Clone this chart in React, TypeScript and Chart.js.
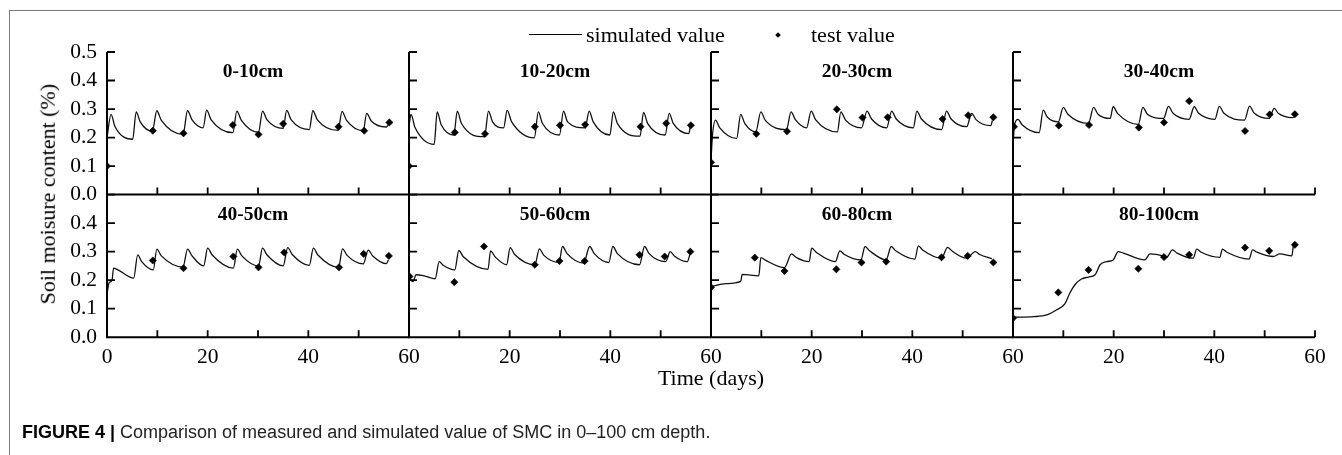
import React, { useEffect, useRef } from 'react';
import { Chart, registerables } from 'chart.js';

Chart.register(...registerables);

// ---------------- data ----------------
const depthLabels = ['0-10cm', '10-20cm', '20-30cm', '30-40cm', '40-50cm', '50-60cm', '60-80cm', '80-100cm'];

const yTickValues = [0, 0.1, 0.2, 0.3, 0.4, 0.5];
const yTickLabels = ['0.0', '0.1', '0.2', '0.3', '0.4', '0.5'];
const xTickValues = [0, 10, 20, 30, 40, 50, 60];
const xTickLabels = ['0', '', '20', '', '40', '', '60'];

const sim0to10 = [[0,0.20],[0.8,0.281],[1.6,0.238],[5.1,0.194],[5.8,0.290],[6.6,0.255],[9.0,0.222],[9.9,0.294],[10.8,0.260],[15.1,0.211],[16.0,0.294],[16.9,0.262],[19.1,0.234],[19.8,0.296],[20.7,0.262],[25.0,0.217],[25.8,0.293],[26.7,0.260],[30.1,0.218],[30.9,0.293],[31.8,0.262],[35.0,0.232],[35.7,0.295],[36.6,0.262],[40.2,0.228],[40.9,0.294],[41.8,0.262],[45.9,0.225],[46.7,0.292],[47.6,0.260],[50.9,0.224],[51.6,0.285],[52.5,0.258],[55.5,0.237],[55.9,0.245]];
const test0to10 = [[0,0.100],[9.1,0.224],[15.2,0.215],[25.0,0.244],[30.1,0.211],[35.0,0.248],[46.0,0.238],[51.1,0.224],[56.1,0.253]];

const sim10to20 = [[0,0.24],[0.4,0.281],[1.2,0.235],[5.0,0.176],[5.6,0.290],[6.4,0.245],[8.9,0.209],[9.6,0.293],[10.4,0.250],[15.0,0.203],[15.8,0.293],[16.6,0.255],[18.8,0.234],[19.5,0.295],[20.4,0.255],[24.9,0.199],[25.7,0.290],[26.5,0.250],[29.9,0.209],[30.7,0.293],[31.5,0.255],[35.0,0.234],[35.8,0.293],[36.6,0.255],[39.9,0.209],[40.6,0.290],[41.4,0.250],[45.9,0.205],[46.6,0.288],[47.4,0.250],[50.9,0.209],[51.7,0.285],[52.5,0.250],[55.6,0.214],[55.9,0.240]];
const test10to20 = [[0,0.100],[9.1,0.218],[15.1,0.213],[25.0,0.238],[30.0,0.243],[35.0,0.245],[46.0,0.238],[51.1,0.250],[56.0,0.243]];

const sim20to30 = [[0,0.12],[0.3,0.21],[0.9,0.261],[1.7,0.235],[5.1,0.197],[5.9,0.281],[6.7,0.250],[8.9,0.220],[9.9,0.290],[10.8,0.260],[15.0,0.228],[15.9,0.290],[16.8,0.262],[19.0,0.234],[19.9,0.293],[20.8,0.262],[25.1,0.220],[25.8,0.290],[26.7,0.262],[29.9,0.234],[31.0,0.293],[31.9,0.265],[34.9,0.234],[35.9,0.293],[36.8,0.265],[40.2,0.234],[40.9,0.293],[41.8,0.265],[45.8,0.228],[46.8,0.293],[47.7,0.265],[50.8,0.238],[51.8,0.285],[52.7,0.262],[55.6,0.242],[55.9,0.260]];
const test20to30 = [[0,0.113],[9.0,0.213],[15.1,0.222],[25.0,0.299],[30.1,0.270],[35.1,0.271],[46.0,0.265],[51.1,0.278],[56.1,0.271]];

const sim30to40 = [[0,0.17],[0.3,0.245],[1.0,0.264],[1.8,0.245],[5.2,0.217],[6.0,0.296],[6.8,0.272],[9.0,0.255],[10.0,0.306],[10.9,0.282],[15.0,0.250],[16.0,0.306],[16.9,0.282],[19.3,0.267],[19.9,0.308],[20.8,0.284],[24.9,0.246],[25.8,0.306],[26.7,0.282],[29.9,0.267],[30.9,0.309],[31.8,0.285],[35.0,0.264],[36.0,0.308],[36.9,0.285],[40.1,0.264],[41.0,0.309],[41.9,0.285],[46.0,0.261],[47.0,0.310],[47.9,0.286],[50.9,0.267],[51.9,0.302],[52.7,0.285],[55.5,0.270],[55.9,0.272]];
const test30to40 = [[0.2,0.238],[9.1,0.242],[15.1,0.244],[25.0,0.235],[30.0,0.253],[35.0,0.328],[46.1,0.223],[51.0,0.281],[56.0,0.282]];

const sim40to50 = [[0,0.15],[0.4,0.19],[1.0,0.200],[1.3,0.242],[2.0,0.238],[5.3,0.207],[6.1,0.289],[6.9,0.265],[9.2,0.236],[9.9,0.309],[10.8,0.285],[15.1,0.246],[16.0,0.309],[16.9,0.285],[19.2,0.250],[20.0,0.312],[20.9,0.288],[25.1,0.242],[25.9,0.309],[26.8,0.285],[30.1,0.250],[30.9,0.312],[31.8,0.288],[35.0,0.250],[35.9,0.314],[36.8,0.290],[40.2,0.252],[41.0,0.312],[41.9,0.288],[46.0,0.245],[46.8,0.310],[47.7,0.287],[50.9,0.257],[51.9,0.305],[52.8,0.285],[55.5,0.258],[55.9,0.270]];
const test40to50 = [[9.1,0.269],[15.2,0.242],[25.1,0.283],[30.1,0.245],[35.2,0.297],[46.1,0.245],[51.0,0.292],[56.0,0.285]];

const sim50to60 = [[0,0.210],[0.8,0.195],[1.4,0.219],[3.0,0.215],[5.2,0.205],[6.0,0.265],[6.8,0.252],[9.1,0.236],[9.9,0.304],[10.8,0.282],[15.7,0.238],[16.2,0.303],[17.1,0.282],[19.4,0.254],[20.1,0.314],[21.0,0.290],[25.0,0.254],[25.9,0.310],[26.8,0.287],[29.8,0.262],[30.5,0.318],[31.4,0.293],[34.7,0.260],[35.9,0.318],[36.8,0.293],[39.7,0.262],[40.5,0.318],[41.4,0.293],[45.8,0.254],[46.8,0.318],[47.7,0.293],[51.0,0.265],[51.9,0.300],[52.7,0.285],[55.3,0.265],[55.8,0.290]];
const test50to60 = [[0.1,0.213],[9.0,0.193],[14.9,0.318],[25.0,0.254],[29.9,0.267],[34.9,0.267],[45.8,0.289],[50.8,0.283],[55.9,0.300]];

const sim60to80 = [[0,0.178],[3.0,0.188],[5.9,0.196],[6.2,0.220],[9.5,0.215],[9.9,0.279],[10.8,0.270],[14.6,0.244],[16.0,0.292],[16.9,0.280],[19.5,0.265],[20.0,0.312],[20.9,0.298],[24.7,0.265],[25.6,0.303],[26.5,0.290],[29.8,0.271],[30.6,0.318],[31.5,0.303],[34.8,0.271],[35.8,0.318],[36.7,0.303],[40.5,0.274],[41.2,0.320],[42.1,0.305],[45.8,0.277],[47.0,0.315],[47.9,0.302],[50.8,0.277],[52.5,0.300],[53.4,0.290],[55.8,0.275]];
const test60to80 = [[0,0.175],[8.7,0.279],[14.6,0.232],[24.9,0.238],[29.9,0.262],[34.8,0.265],[45.8,0.280],[51.0,0.285],[56.1,0.262]];

const sim80to100 = [[0,0.070],[4.1,0.072],[6.7,0.078],[8.7,0.096],[10.3,0.117],[11.3,0.155],[12.3,0.184],[13.6,0.204],[15.0,0.211],[16.3,0.219],[17.3,0.254],[18.6,0.265],[19.9,0.271],[20.9,0.300],[21.9,0.295],[26.2,0.271],[27.2,0.292],[29.8,0.285],[30.5,0.280],[31.7,0.306],[32.6,0.295],[35.8,0.277],[36.5,0.309],[37.4,0.298],[41.1,0.280],[41.6,0.309],[42.5,0.298],[46.9,0.274],[47.6,0.306],[48.5,0.298],[51.7,0.283],[53.0,0.292],[55.4,0.285],[55.7,0.322]];
const test80to100 = [[0,0.067],[9.0,0.157],[15.0,0.236],[24.9,0.240],[30.0,0.281],[35.0,0.289],[46.1,0.314],[50.9,0.303],[56.0,0.324]];

const simSeries = [sim0to10, sim10to20, sim20to30, sim30to40, sim40to50, sim50to60, sim60to80, sim80to100];
const testSeries = [test0to10, test10to20, test20to30, test30to40, test40to50, test50to60, test60to80, test80to100];

// ---------------- layout ----------------
const PAGE_W = 1342;
const PAGE_H = 455;
const PANEL_LEFT = [107, 409, 711, 1013];
const PANEL_W = 302;
const ROW_TOP = [52, 194.6];
const PANEL_H = 142.6;
const TITLE_DAY = 29;

const SERIF = '"Liberation Serif", "Times New Roman", serif';
const SANS = '"Liberation Sans", Arial, sans-serif';

const panelPlugin = {
  id: 'panelAxes',
  afterDatasetsDraw(chart: any, _args: any, opts: any) {
    const { ctx, chartArea, scales } = chart;
    const { left, right, top, bottom } = chartArea;
    const xs = scales.x;
    const ys = scales.y;
    ctx.save();
    ctx.strokeStyle = '#000';
    ctx.lineWidth = 2;
    ctx.beginPath();
    ctx.moveTo(left, top);
    ctx.lineTo(left, bottom);
    ctx.lineTo(right, bottom);
    ctx.stroke();
    ctx.lineWidth = 1.8;
    ctx.beginPath();
    yTickValues.forEach((v) => {
      if (v === 0) return;
      const py = ys.getPixelForValue(v);
      ctx.moveTo(left, py);
      ctx.lineTo(left + 8, py);
    });
    xTickValues.forEach((v) => {
      if (v === 0) return;
      if (v === 60 && !opts.last) return;
      const px = xs.getPixelForValue(v);
      ctx.moveTo(px, bottom);
      ctx.lineTo(px, bottom - 7);
    });
    ctx.stroke();
    ctx.fillStyle = '#000';
    ctx.font = 'bold 19.5px ' + SERIF;
    ctx.textAlign = 'center';
    ctx.textBaseline = 'alphabetic';
    ctx.fillText(opts.title, xs.getPixelForValue(TITLE_DAY), top + 25);
    ctx.restore();
  },
};

function fixFit(s: any, dim: 'width' | 'height', size: number) {
  s[dim] = size;
  s.paddingLeft = 0;
  s.paddingRight = 0;
  s.paddingTop = 0;
  s.paddingBottom = 0;
}

function Panel({ idx }: { idx: number }) {
  const ref = useRef<HTMLCanvasElement | null>(null);
  useEffect(() => {
    const row = Math.floor(idx / 4);
    const col = idx % 4;
    const X = PANEL_LEFT[col];
    const Y = ROW_TOP[row];
    const bottomSpace = PAGE_H - Y - PANEL_H;
    const tickFont = { family: SERIF, size: 21.5 };
    const chart = new Chart(ref.current as HTMLCanvasElement, {
      type: 'line',
      data: {
        datasets: [
          {
            label: 'test value',
            data: testSeries[idx] as any,
            showLine: false,
            pointStyle: 'rectRot',
            pointRadius: 3.6,
            pointBackgroundColor: '#000',
            pointBorderColor: '#000',
            pointBorderWidth: 0.6,
            order: 1,
          },
          {
            label: 'simulated value',
            data: simSeries[idx] as any,
            borderColor: '#111',
            borderWidth: 1.3,
            pointRadius: 0,
            fill: false,
            cubicInterpolationMode: 'monotone',
            order: 2,
          },
        ],
      },
      options: {
        responsive: false,
        animation: false,
        events: [],
        layout: {
          padding: {
            left: 0,
            top: Y,
            right: PAGE_W - X - PANEL_W,
            bottom: 0,
          },
        },
        plugins: {
          legend: { display: false },
          tooltip: { enabled: false },
          title: { display: false },
          panelAxes: { title: depthLabels[idx], last: col === 3 },
        } as any,
        scales: {
          x: {
            type: 'linear',
            min: 0,
            max: 60,
            grid: { display: false, drawTicks: false },
            border: { display: false },
            afterFit: (s: any) => fixFit(s, 'height', bottomSpace),
            afterBuildTicks: (s: any) => {
              s.ticks = xTickValues.map((v) => ({ value: v }));
            },
            ticks: {
              display: row === 1,
              autoSkip: false,
              maxRotation: 0,
              padding: 7,
              color: '#000',
              font: tickFont,
              callback: (v: any) => {
                const i = xTickValues.indexOf(Number(v));
                if (i < 0) return '';
                if (col > 0 && Number(v) === 0) return '';
                return xTickLabels[i];
              },
            },
          },
          y: {
            type: 'linear',
            min: 0,
            max: 0.5,
            grid: { display: false, drawTicks: false },
            border: { display: false },
            afterFit: (s: any) => fixFit(s, 'width', X),
            afterBuildTicks: (s: any) => {
              s.ticks = yTickValues.map((v) => ({ value: v }));
            },
            ticks: {
              display: col === 0,
              autoSkip: false,
              padding: 10,
              color: '#000',
              font: tickFont,
              callback: (v: any) => {
                const i = yTickValues.findIndex((t) => Math.abs(t - Number(v)) < 1e-6);
                if (i < 0) return '';
                if (row === 1 && i === 5) return '';
                return yTickLabels[i];
              },
            },
          },
        },
      },
      plugins: [panelPlugin as any],
    });
    return () => chart.destroy();
  }, [idx]);
  return (
    <canvas
      ref={ref}
      width={PAGE_W}
      height={PAGE_H}
      style={{ position: 'absolute', left: 0, top: 0, width: PAGE_W, height: PAGE_H }}
    />
  );
}

const serifText = (fs: number): React.CSSProperties => ({
  position: 'absolute',
  fontFamily: SERIF,
  fontSize: fs,
  lineHeight: `${fs * 1.107}px`,
  color: '#000',
  whiteSpace: 'nowrap',
});

export default function App() {
  return (
    <div
      style={{
        position: 'absolute',
        left: 0,
        top: 0,
        width: PAGE_W,
        height: PAGE_H,
        overflow: 'hidden',
        background: '#fff',
      }}
    >
      {/* frame */}
      <div style={{ position: 'absolute', left: 9, top: 10, width: PAGE_W - 9, height: 0, borderTop: '1.5px solid #7a7a7a' }} />
      <div style={{ position: 'absolute', left: 9, top: 10, width: 0, height: PAGE_H - 10, borderLeft: '1.5px solid #7a7a7a' }} />

      {depthLabels.map((_, i) => (
        <Panel key={i} idx={i} />
      ))}

      {/* legend */}
      <div style={{ position: 'absolute', left: 529, top: 34.4, width: 53, height: 0, borderTop: '1.3px solid #000' }} />
      <span style={{ ...serifText(22), left: 586, top: 42.5 - 0.891 * 22 }}>simulated value</span>
      <div
        style={{
          position: 'absolute',
          left: 776,
          top: 33,
          width: 4,
          height: 4,
          background: '#000',
          transform: 'rotate(45deg)',
        }}
      />
      <span style={{ ...serifText(22), left: 811, top: 42.5 - 0.891 * 22 }}>test value</span>

      {/* axis titles */}
      <div
        style={{
          ...serifText(22),
          left: 47.6 - 160,
          top: 194.5 - (22 * 1.107) / 2,
          width: 320,
          textAlign: 'center',
          transform: 'rotate(-90deg)',
          transformOrigin: 'center center',
        }}
      >
        Soil moisure content (%)
      </div>
      <div style={{ ...serifText(22), left: 711 - 100, width: 200, textAlign: 'center', top: 386 - 0.891 * 22 }}>
        Time (days)
      </div>

      {/* caption */}
      <div
        style={{
          position: 'absolute',
          left: 22,
          top: 438 - 0.905 * 18,
          fontFamily: SANS,
          fontSize: 18,
          lineHeight: `${18 * 1.117}px`,
          color: '#222',
          whiteSpace: 'nowrap',
        }}
      >
        <b style={{ color: '#000' }}>FIGURE 4 |</b> Comparison of measured and simulated value of SMC in 0–100 cm depth.
      </div>
    </div>
  );
}
